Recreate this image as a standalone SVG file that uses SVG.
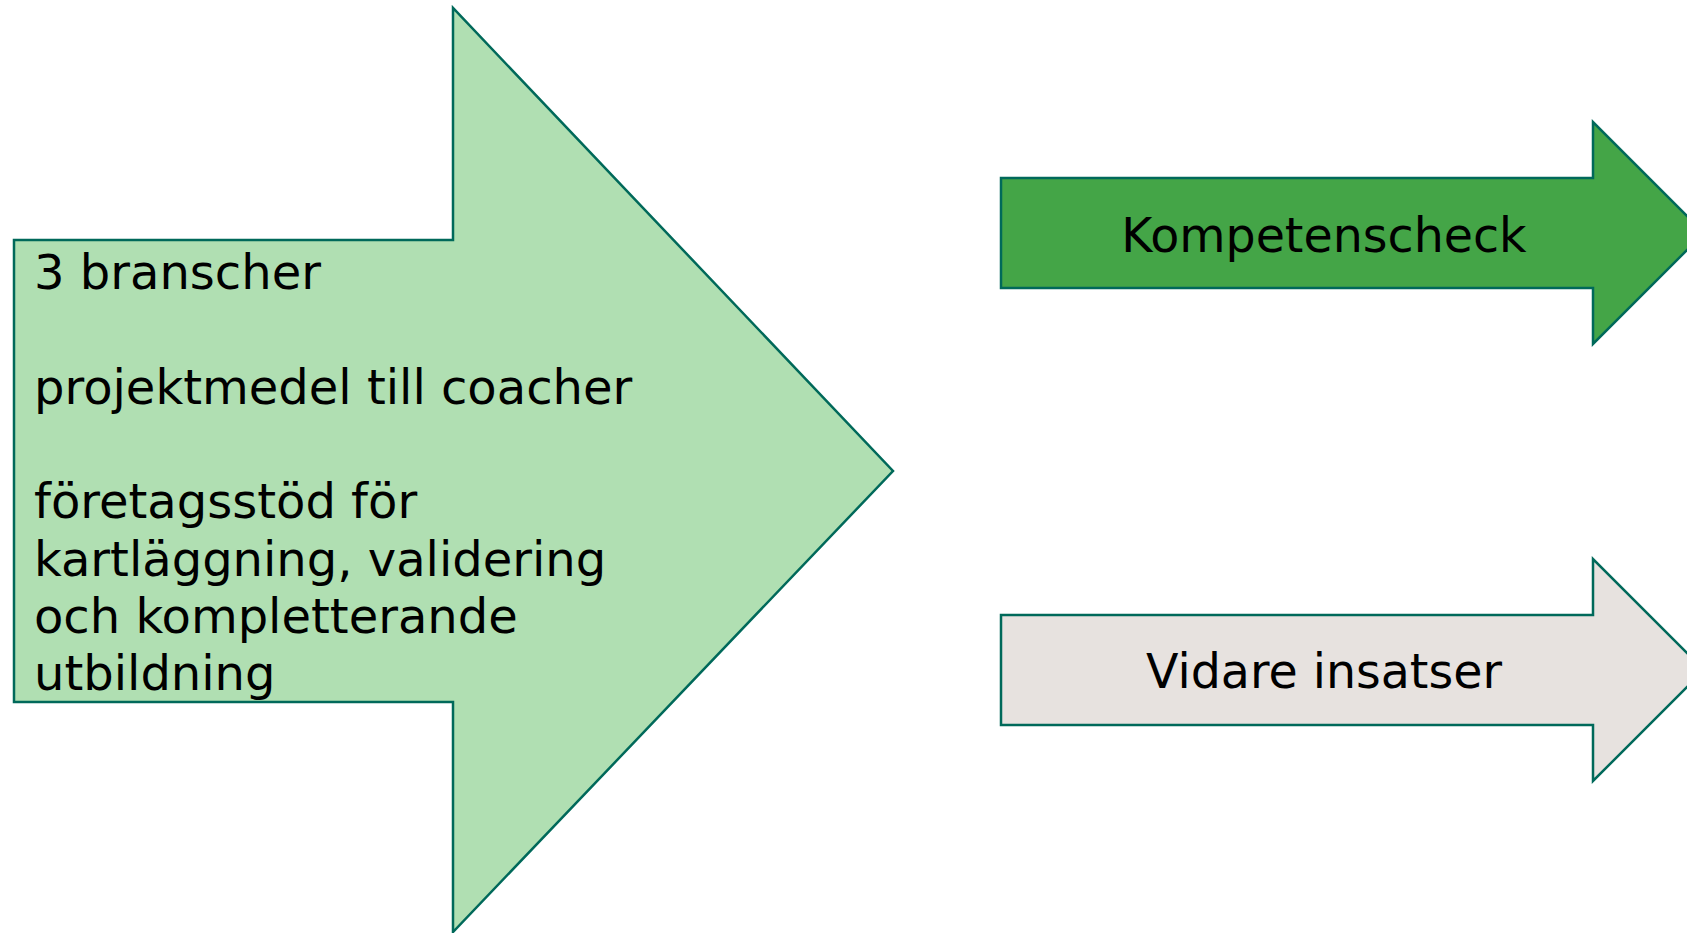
<svg xmlns="http://www.w3.org/2000/svg" width="1687" height="933" viewBox="0 0 1687 933">
<style>
.shape{stroke:#00695A;stroke-width:2.5;stroke-linejoin:miter}
.t{font-family:"DejaVu Sans","Verdana",sans-serif;font-size:47.5px;fill:#000}
.tl{font-size:48px}
</style>
<rect width="1687" height="933" fill="#fff"/>
<g id="node-main">
<polygon class="shape" fill="#B0DFB2" points="14,240 453,240 453,8 893,471 453,932 453,702 14,702"/>
<text class="t tl" x="34"><tspan x="34" y="289">3 branscher</tspan><tspan x="34" y="404">projektmedel till coacher</tspan><tspan x="34" y="518">företagsstöd för</tspan><tspan x="34" y="576">kartläggning, validering</tspan><tspan x="34" y="633">och kompletterande</tspan><tspan x="34" y="690">utbildning</tspan></text>
</g>
<g id="node-kompetenscheck">
<polygon class="shape" fill="#44A547" points="1001,178 1593,178 1593,122 1704,233 1593,344 1593,288 1001,288"/>
<text class="t" x="1324" y="252" text-anchor="middle">Kompetenscheck</text>
</g>
<g id="node-vidare">
<polygon class="shape" fill="#E7E2DF" points="1001,615 1593,615 1593,559 1704,670 1593,781 1593,725 1001,725"/>
<text class="t" x="1324" y="688" text-anchor="middle">Vidare insatser</text>
</g>
<g id="connectors"></g>
</svg>
